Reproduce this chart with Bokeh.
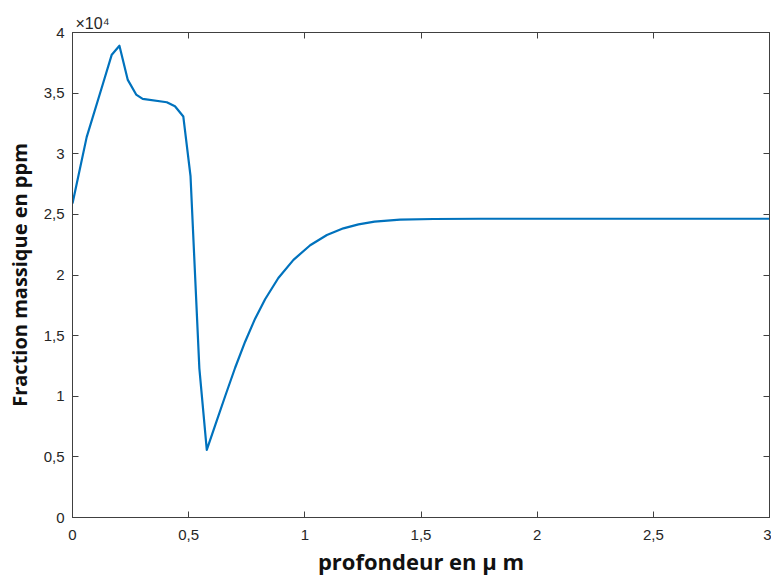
from bokeh.plotting import figure
from bokeh.models import (Range1d, LinearAxis, FixedTicker, CustomJSTickFormatter, Title)
from bokeh.embed import file_html
from bokeh.resources import INLINE

# depth in micrometres
depth_um = [0.000, 0.061, 0.133, 0.169, 0.202, 0.238, 0.274, 0.302, 0.406, 0.441,
            0.477, 0.508, 0.546, 0.578, 0.614, 0.657, 0.700, 0.743, 0.786, 0.829,
            0.886, 0.951, 1.023, 1.095, 1.166, 1.231, 1.300, 1.410, 1.554, 1.755,
            2.000, 2.500, 3.000]
# mass fraction in ppm
fraction_ppm = [25900, 31370, 35900, 38170, 38910, 36090, 34880, 34530, 34250, 33920,
                33070, 28150, 12300, 5570, 7600, 10000, 12350, 14500, 16400, 18000,
                19750, 21250, 22450, 23300, 23850, 24180, 24400, 24560, 24620, 24638,
                24640, 24640, 24640]

x_ticks = [0, 0.5, 1, 1.5, 2, 2.5, 3]
y_ticks = [0, 5000, 10000, 15000, 20000, 25000, 30000, 35000, 40000]

AX = "#404040"
TXT = "#262626"

p = figure(width=771, height=578, output_backend="svg", toolbar_location=None,
           x_range=Range1d(0, 3), y_range=Range1d(0, 40000),
           min_border_left=72, min_border_right=2, min_border_top=32, min_border_bottom=60,
           background_fill_color="white", border_fill_color="white")
p.grid.visible = False
p.outline_line_color = AX
p.outline_line_width = 1

p.line(depth_um, fraction_ppm, line_color="#0072BD", line_width=2.2, line_join="round")

xfmt = CustomJSTickFormatter(code="return tick.toString().replace('.', ',');")
yfmt = CustomJSTickFormatter(code="return (tick/10000).toString().replace('.', ',');")
blank = CustomJSTickFormatter(code="return '';")

for ax in (p.xaxis[0], p.yaxis[0]):
    ax.axis_line_color = AX
    ax.major_tick_line_color = AX
    ax.major_tick_in = 6
    ax.major_tick_out = 0
    ax.minor_tick_line_color = None
    ax.major_label_text_font = "Liberation Sans"
    ax.major_label_text_font_size = "15px"
    ax.major_label_text_color = TXT
    ax.axis_label_text_font = "Open Sans"
    ax.axis_label_text_font_style = "bold"
    ax.axis_label_text_color = "#111111"

p.xaxis[0].ticker = FixedTicker(ticks=x_ticks)
p.xaxis[0].formatter = xfmt
p.xaxis[0].major_label_standoff = 12
p.xaxis[0].axis_label = "profondeur en μ m"
p.xaxis[0].axis_label_text_font_size = "22px"
p.xaxis[0].axis_label_standoff = 3

p.yaxis[0].ticker = FixedTicker(ticks=y_ticks)
p.yaxis[0].formatter = yfmt
p.yaxis[0].major_label_standoff = 8
p.yaxis[0].axis_label = "Fraction massique en ppm"
p.yaxis[0].axis_label_text_font_size = "20px"
p.yaxis[0].axis_label_standoff = 8

top = LinearAxis(ticker=FixedTicker(ticks=x_ticks), formatter=blank)
right = LinearAxis(ticker=FixedTicker(ticks=y_ticks), formatter=blank)
for ax in (top, right):
    ax.axis_line_color = AX
    ax.major_tick_line_color = AX
    ax.major_tick_in = 6
    ax.major_tick_out = 0
    ax.minor_tick_line_color = None
    ax.major_label_standoff = 0
    ax.major_label_text_font_size = "1px"
p.add_layout(top, "above")
p.add_layout(right, "right")

p.add_layout(Title(text="×10⁴", align="left", offset=3, standoff=2,
                   text_font="Liberation Sans", text_font_size="16px",
                   text_font_style="normal", text_color=TXT), "above")

open("out.html", "w").write(file_html(p, INLINE))
